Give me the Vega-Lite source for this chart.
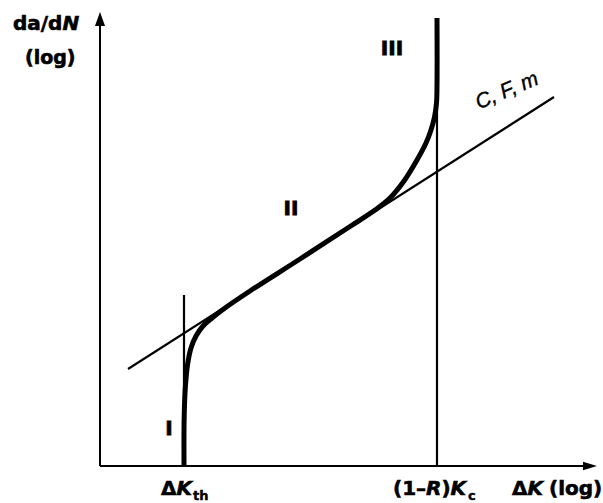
{
  "$schema": "https://vega.github.io/schema/vega-lite/v6.json",
  "width": 603,
  "height": 503,
  "padding": 0,
  "autosize": {"type": "none"},
  "background": "white",
  "config": {"view": {"stroke": null}},
  "datasets": {
    "axes": [
      {"k": 100, "r": 37, "k2": 100, "r2": 480},
      {"k": 100, "r": 37, "k2": 588, "r2": 37}
    ],
    "arrowUp": [{"k": 100, "r": 484}],
    "arrowRight": [{"k": 590, "r": 37}],
    "guides": [
      {"name": "threshold", "k": 184, "r": 37, "k2": 184, "r2": 208},
      {"name": "critical", "k": 437, "r": 37, "k2": 437, "r2": 485},
      {"name": "paris", "k": 128, "r": 134, "k2": 554, "r2": 406}
    ],
    "curve": [
      {"i": 1, "k": 184, "r": 37},
      {"i": 2, "k": 184, "r": 73},
      {"i": 3, "k": 184.5, "r": 98},
      {"i": 4, "k": 185.5, "r": 118},
      {"i": 5, "k": 187.5, "r": 138},
      {"i": 6, "k": 191, "r": 155},
      {"i": 7, "k": 196, "r": 167},
      {"i": 8, "k": 203, "r": 177},
      {"i": 9, "k": 212, "r": 185},
      {"i": 10, "k": 225, "r": 195},
      {"i": 11, "k": 250, "r": 212},
      {"i": 12, "k": 300, "r": 244},
      {"i": 13, "k": 350, "r": 276.5},
      {"i": 14, "k": 375, "r": 293},
      {"i": 15, "k": 390, "r": 305},
      {"i": 16, "k": 404, "r": 322},
      {"i": 17, "k": 417, "r": 343},
      {"i": 18, "k": 426, "r": 360},
      {"i": 19, "k": 431, "r": 373},
      {"i": 20, "k": 434.5, "r": 386},
      {"i": 21, "k": 436.5, "r": 400},
      {"i": 22, "k": 437, "r": 418},
      {"i": 23, "k": 437, "r": 485}
    ],
    "uprightBold": [
      {"t": "da/d", "k": 13, "r": 473, "s": 20},
      {"t": "(log)", "k": 25, "r": 439, "s": 19},
      {"t": "Δ", "k": 161, "r": 8, "s": 20},
      {"t": "(1–", "k": 393, "r": 8, "s": 20},
      {"t": ")", "k": 441.4, "r": 8, "s": 20},
      {"t": "Δ", "k": 512, "r": 8, "s": 20},
      {"t": "(log)", "k": 549, "r": 8, "s": 20}
    ],
    "italicBold": [
      {"t": "N", "k": 62.5, "r": 473, "s": 20},
      {"t": "K", "k": 176.5, "r": 8, "s": 20},
      {"t": "R", "k": 426, "r": 8, "s": 20},
      {"t": "K", "k": 450.5, "r": 8, "s": 20},
      {"t": "K", "k": 527.5, "r": 8, "s": 20}
    ],
    "subscripts": [
      {"t": "th", "k": 193, "r": 3},
      {"t": "c", "k": 468, "r": 3}
    ],
    "regimes": [
      {"t": "I", "k": 169, "r": 68},
      {"t": "II", "k": 291, "r": 288},
      {"t": "III", "k": 392, "r": 448}
    ],
    "lawLabel": [{"t": "C, F, m", "k": 507, "r": 412}]
  },
  "encoding": {
    "x": {"field": "k", "type": "quantitative", "axis": null, "scale": {"domain": [0, 603], "nice": false, "zero": false}},
    "y": {"field": "r", "type": "quantitative", "axis": null, "scale": {"domain": [0, 503], "nice": false, "zero": false}}
  },
  "layer": [
    {
      "data": {"name": "axes"},
      "mark": {"type": "rule", "color": "black", "strokeWidth": 2},
      "encoding": {"x2": {"field": "k2"}, "y2": {"field": "r2"}}
    },
    {
      "data": {"name": "arrowUp"},
      "mark": {"type": "point", "shape": "M0,-1L-0.72,1L0.72,1Z", "size": 196, "filled": true, "color": "black", "opacity": 1, "strokeWidth": 0}
    },
    {
      "data": {"name": "arrowRight"},
      "mark": {"type": "point", "shape": "M1,0L-1,-0.6L-1,0.6Z", "size": 196, "filled": true, "color": "black", "opacity": 1, "strokeWidth": 0}
    },
    {
      "data": {"name": "guides"},
      "mark": {"type": "rule", "color": "black", "strokeWidth": 2.2},
      "encoding": {"x2": {"field": "k2"}, "y2": {"field": "r2"}}
    },
    {
      "data": {"name": "curve"},
      "mark": {"type": "line", "color": "black", "strokeWidth": 5, "interpolate": "catmull-rom", "strokeCap": "butt"},
      "encoding": {"order": {"field": "i", "type": "quantitative"}}
    },
    {
      "data": {"name": "uprightBold"},
      "mark": {"type": "text", "font": "DejaVu Sans", "fontWeight": "bold", "align": "left", "baseline": "alphabetic", "color": "black", "stroke": "black", "strokeWidth": 0.6},
      "encoding": {"text": {"field": "t"}, "size": {"field": "s", "type": "quantitative", "scale": null}}
    },
    {
      "data": {"name": "italicBold"},
      "mark": {"type": "text", "font": "DejaVu Sans", "fontWeight": "bold", "fontStyle": "italic", "align": "left", "baseline": "alphabetic", "color": "black", "stroke": "black", "strokeWidth": 0.6},
      "encoding": {"text": {"field": "t"}, "size": {"field": "s", "type": "quantitative", "scale": null}}
    },
    {
      "data": {"name": "subscripts"},
      "mark": {"type": "text", "font": "DejaVu Sans", "fontWeight": "bold", "fontSize": 13, "align": "left", "baseline": "alphabetic", "color": "black", "stroke": "black", "strokeWidth": 0.4},
      "encoding": {"text": {"field": "t"}}
    },
    {
      "data": {"name": "regimes"},
      "mark": {"type": "text", "font": "DejaVu Sans", "fontWeight": "bold", "fontSize": 20, "align": "center", "baseline": "alphabetic", "color": "black", "stroke": "black", "strokeWidth": 0.8},
      "encoding": {"text": {"field": "t"}}
    },
    {
      "data": {"name": "lawLabel"},
      "mark": {"type": "text", "font": "Liberation Sans", "fontStyle": "italic", "fontSize": 21, "angle": -23, "align": "center", "baseline": "middle", "color": "black", "stroke": "black", "strokeWidth": 0.4},
      "encoding": {"text": {"field": "t"}}
    }
  ]
}
